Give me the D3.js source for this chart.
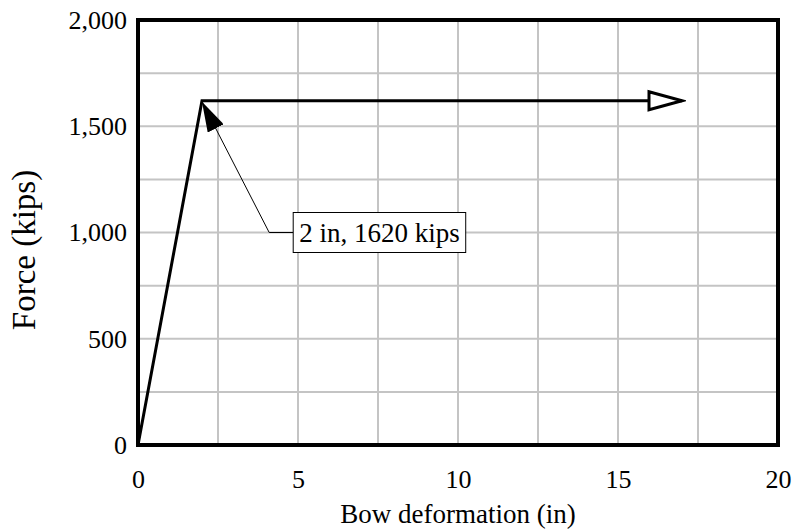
<!DOCTYPE html>
<html>
<head>
<meta charset="utf-8">
<script src="https://cdn.jsdelivr.net/npm/d3@7"></script>
<style>
  body { margin: 0; background: #fff; }
  text { font-family: "Liberation Serif", "Times New Roman", serif; }
</style>
</head>
<body>
<div id="graf"></div>
<script>
// tocke krivulje sila-deformacija
const deformacija = [0, 2, 17];
const sila = [0, 1620, 1620];

const xTicks = [0, 5, 10, 15, 20];
const yTicks = [0, 500, 1000, 1500, 2000];
const xGrid = [2.5, 5, 7.5, 10, 12.5, 15, 17.5];
const yGrid = [250, 500, 750, 1000, 1250, 1500, 1750];

// oznaka
const oznakaTekst = "2 in, 1620 kips";
const oznakaTocka = [2, 1620];
const oznakaLakat = [4.1, 1000];
const oznakaKutija = [4.85, 1000];

var width = 793;
var height = 532;
var margin = { top: 20, right: 15, bottom: 87, left: 138 };

var svg = d3.select("#graf")
    .append("svg")
    .attr("width", width)
    .attr("height", height);

var x = d3.scaleLinear()
    .domain([0, 20])
    .range([margin.left, width - margin.right]);

var y = d3.scaleLinear()
    .domain([0, 2000])
    .range([height - margin.bottom, margin.top]);

var defs = svg.append("defs");
defs.append("marker")
    .attr("id", "otvorena")
    .attr("viewBox", "-3 -3 40 24")
    .attr("refX", 33)
    .attr("refY", 9)
    .attr("markerWidth", 40)
    .attr("markerHeight", 24)
    .attr("markerUnits", "userSpaceOnUse")
    .attr("orient", "auto")
    .append("path")
    .attr("d", "M0,0 L33,9 L0,18 Z")
    .attr("fill", "white")
    .attr("stroke", "black")
    .attr("stroke-width", 3)
    .attr("stroke-linejoin", "miter");

defs.append("marker")
    .attr("id", "puna")
    .attr("viewBox", "0 0 30 18")
    .attr("refX", 30)
    .attr("refY", 9)
    .attr("markerWidth", 30)
    .attr("markerHeight", 18)
    .attr("markerUnits", "userSpaceOnUse")
    .attr("orient", "auto")
    .append("path")
    .attr("d", "M0,0 L30,9 L0,18 Z")
    .attr("fill", "black");

// mreza
svg.append("g")
    .selectAll("line")
    .data(xGrid)
    .enter()
    .append("line")
    .attr("x1", d => x(d))
    .attr("x2", d => x(d))
    .attr("y1", y(0))
    .attr("y2", y(2000))
    .attr("stroke", "#c4c4c4")
    .attr("stroke-width", 2);

svg.append("g")
    .selectAll("line")
    .data(yGrid)
    .enter()
    .append("line")
    .attr("x1", x(0))
    .attr("x2", x(20))
    .attr("y1", d => y(d))
    .attr("y2", d => y(d))
    .attr("stroke", "#c4c4c4")
    .attr("stroke-width", 2);

// okvir
svg.append("rect")
    .attr("x", x(0))
    .attr("y", y(2000))
    .attr("width", x(20) - x(0))
    .attr("height", y(0) - y(2000))
    .attr("fill", "none")
    .attr("stroke", "black")
    .attr("stroke-width", 4);

// osi
var xAxis = svg.append("g")
    .attr("transform", "translate(0," + (y(0) + 17) + ")")
    .call(d3.axisBottom(x).tickValues(xTicks).tickSize(0).tickPadding(8));
xAxis.select(".domain").remove();
xAxis.selectAll("text")
    .style("font-size", "26px")
    .style("font-family", "Liberation Serif")
    .attr("fill", "black");

var yAxis = svg.append("g")
    .attr("transform", "translate(" + (x(0) - 11) + ",0)")
    .call(d3.axisLeft(y).tickValues(yTicks).tickSize(0).tickPadding(0).tickFormat(d3.format(",")));
yAxis.select(".domain").remove();
yAxis.selectAll("text")
    .style("font-size", "26px")
    .style("font-family", "Liberation Serif")
    .attr("fill", "black");

// krivulja
var linija = d3.line()
    .x(d => x(d[0]))
    .y(d => y(d[1]));

svg.append("path")
    .datum(deformacija.map((d, i) => [d, sila[i]]))
    .attr("d", linija)
    .attr("fill", "none")
    .attr("stroke", "black")
    .attr("stroke-width", 3)
    .attr("stroke-linejoin", "miter")
    .attr("marker-end", "url(#otvorena)");

// oznaka sa strelicom
svg.append("line")
    .attr("x1", x(oznakaKutija[0]))
    .attr("y1", y(oznakaLakat[1]))
    .attr("x2", x(oznakaLakat[0]))
    .attr("y2", y(oznakaLakat[1]))
    .attr("stroke", "black")
    .attr("stroke-width", 1);

svg.append("line")
    .attr("x1", x(oznakaLakat[0]))
    .attr("y1", y(oznakaLakat[1]))
    .attr("x2", x(oznakaTocka[0]))
    .attr("y2", y(oznakaTocka[1]) + 1)
    .attr("stroke", "black")
    .attr("stroke-width", 1)
    .attr("marker-end", "url(#puna)");

var kutija = svg.append("g");
var kx = x(oznakaKutija[0]);
var ky = y(oznakaKutija[1]);
var kt = kutija.append("text")
    .attr("x", kx + 6)
    .attr("y", ky + 9)
    .style("font-size", "27px")
    .text(oznakaTekst);
var sirina = kt.node().getComputedTextLength() + 12;
kutija.insert("rect", "text")
    .attr("x", kx)
    .attr("y", ky - 20)
    .attr("width", sirina)
    .attr("height", 40)
    .attr("fill", "white")
    .attr("stroke", "black")
    .attr("stroke-width", 1);

// naslovi osi
svg.append("text")
    .attr("transform", "rotate(-90)")
    .attr("x", -250)
    .attr("y", 35)
    .style("text-anchor", "middle")
    .style("font-size", "33px")
    .text("Force (kips)");

svg.append("text")
    .attr("x", (x(0) + x(20)) / 2)
    .attr("y", 523)
    .style("text-anchor", "middle")
    .style("font-size", "27px")
    .text("Bow deformation (in)");
</script>
</body>
</html>
